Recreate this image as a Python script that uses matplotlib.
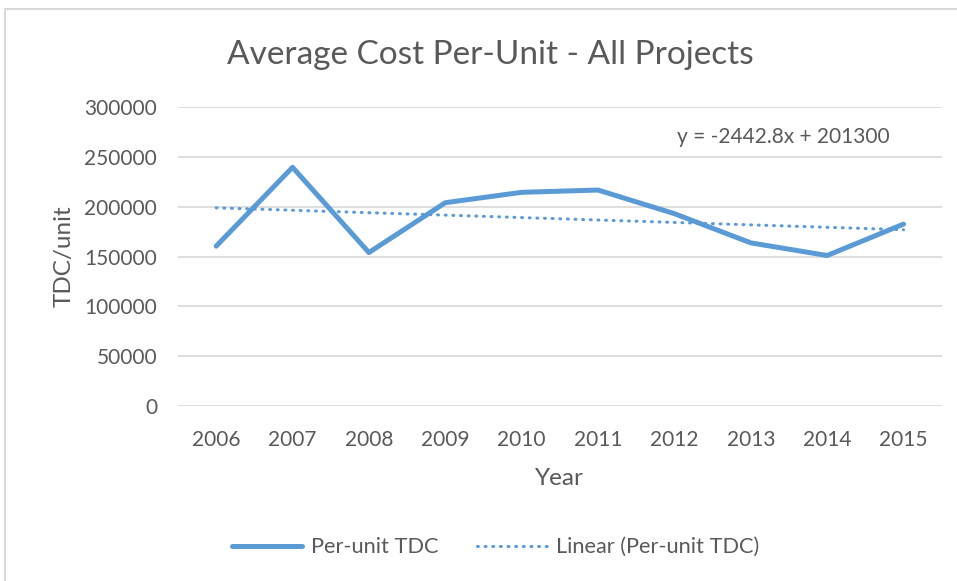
import numpy as np
import matplotlib.pyplot as plt
from matplotlib.patches import Rectangle

# data
years = ['2006', '2007', '2008', '2009', '2010', '2011', '2012', '2013', '2014', '2015']
tdc_per_unit = [160400, 239500, 154000, 204000, 214400, 216700, 193000, 163700, 151000, 182500]

# Excel linear trendline as printed on the chart
slope = -2442.8
intercept = 201300

blue = '#5B9BD5'
text_gray = '#595959'
grid_gray = '#D9D9D9'

plt.rcParams['font.family'] = ['Lato', 'DejaVu Sans']

fig = plt.figure(figsize=(9.57, 5.81), dpi=100)
ax = fig.add_axes([0.186, 0.3012, 0.798, 0.5146])

# chart border (cut off on the right and bottom in the screenshot)
fig.patches.append(Rectangle((5 / 957, -0.05), 1.1, 1 - 9 / 581 + 0.05,
                             transform=fig.transFigure, fill=False,
                             edgecolor=grid_gray, linewidth=1.5))

x = np.arange(1, len(years) + 1)
trend = slope * x + intercept

ax.plot(x, tdc_per_unit, color=blue, linewidth=3.6, solid_joinstyle='round',
        solid_capstyle='round', label='Per-unit TDC')
ax.plot(x, trend, color=blue, linewidth=2.2, dashes=(0.3, 2.2),
        dash_capstyle='round', label='Linear (Per-unit TDC)')

ax.set_xlim(0.5, len(years) + 0.5)
ax.set_ylim(0, 300000)
ax.set_yticks(np.arange(0, 300001, 50000))
ax.set_xticks(x)
ax.set_xticklabels(years)

ax.grid(axis='y', color=grid_gray, linewidth=1.2)
ax.set_axisbelow(True)
for s in ax.spines.values():
    s.set_visible(False)
ax.tick_params(length=0, labelsize=15, colors=text_gray)
ax.tick_params(axis='x', pad=17)
ax.tick_params(axis='y', pad=15)

ax.set_xlabel('Year', fontsize=17.5, color=text_gray, labelpad=13)
ax.set_ylabel('TDC/unit', fontsize=17.5, color=text_gray, labelpad=7)
fig.text(0.512, 0.905, 'Average Cost Per-Unit - All Projects', fontsize=24,
         color=text_gray, ha='center', va='center')

ax.text(0.932, 0.9, 'y = -2442.8x + 201300', transform=ax.transAxes,
        fontsize=15, color=text_gray, ha='right', va='center')

fig.legend(loc='center', bbox_to_anchor=(0.518, 0.058), ncol=2, frameon=False,
           fontsize=15.7, labelcolor=text_gray, handlelength=3.2,
           columnspacing=1.8, handletextpad=0.4)

fig.savefig('out.png', dpi=100)
